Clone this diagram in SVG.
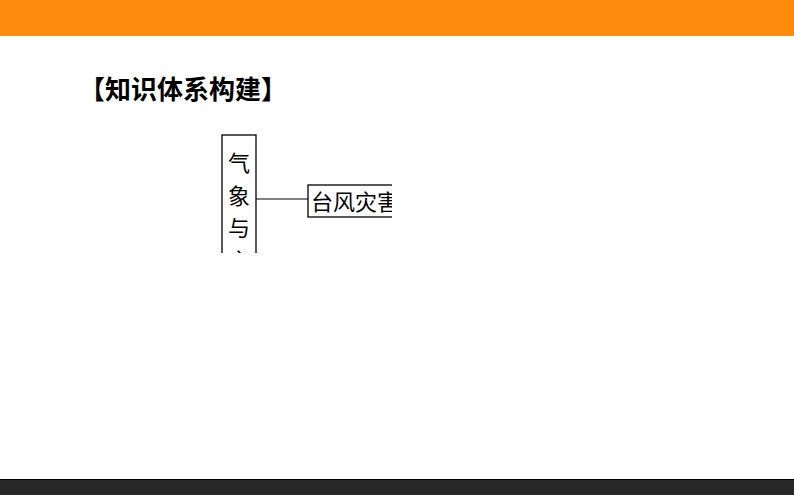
<svg xmlns="http://www.w3.org/2000/svg" width="794" height="495" viewBox="0 0 794 495">
<style>
.box{fill:#fff;stroke:#000;stroke-width:1.3}
.t{font-family:"Noto Sans CJK SC","Noto Sans CJK JP",sans-serif;font-size:22px;fill:#000}
.title{font-family:"Noto Sans CJK SC","Noto Sans CJK JP",sans-serif;font-size:26px;font-weight:bold;fill:#000}
.conn{stroke:#000;stroke-width:1.2;fill:none}
</style>
<defs>
<clipPath id="clip"><rect x="0" y="0" width="392" height="253"/></clipPath>
</defs>
<rect x="0" y="0" width="794" height="495" fill="#fff"/>
<rect id="topbar" x="0" y="0" width="794" height="36" fill="#ff8a0c"/>
<rect id="bottombar" x="0" y="479" width="794" height="16" fill="#282828"/>
<line x1="0" y1="479.5" x2="794" y2="479.5" stroke="#000" stroke-width="1"/>
<text id="title" class="title" x="79" y="99">【知识体系构建】</text>
<g clip-path="url(#clip)">
<g id="connectors">
<line class="conn" x1="256" y1="199" x2="308" y2="199"/>
</g>
<g id="node-main">
<rect class="box" x="222" y="135" width="34" height="140"/>
<text class="t" x="239" y="171" text-anchor="middle">气</text>
<text class="t" x="239" y="204" text-anchor="middle">象</text>
<text class="t" x="239" y="236" text-anchor="middle">与</text>
<text class="t" x="239" y="269" text-anchor="middle">灾</text>
</g>
<g id="node-typhoon">
<rect class="box" x="308" y="185" width="100" height="32"/>
<text class="t" x="311" y="210">台风灾害</text>
</g>
</g>
</svg>
